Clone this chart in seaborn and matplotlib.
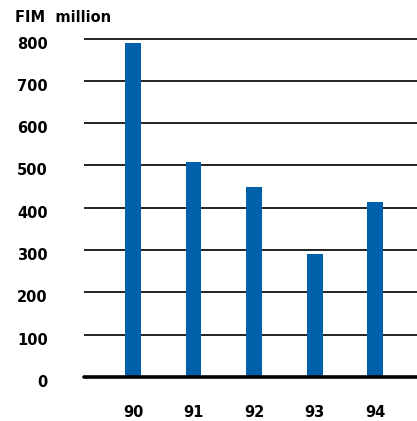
import matplotlib
matplotlib.use("Agg")
import matplotlib.pyplot as plt
import matplotlib.transforms as mtransforms
import seaborn as sns
import pandas as pd

years = ["90", "91", "92", "93", "94"]
values = [790, 508, 450, 291, 414]
y_ticks = [0, 100, 200, 300, 400, 500, 600, 700, 800]

sns.set_theme(style="white")
plt.rcParams["font.family"] = ["DejaVu Sans"]

df = pd.DataFrame({"year": years, "value": values})

fig = plt.figure(figsize=(4.17, 4.21), dpi=100)
ax = fig.add_axes([84 / 417, 1 - 377 / 421, 1 - 84 / 417, (377 - 34.3) / 421])

ax.set_ylim(0, 810)
for t in y_ticks[1:]:
    ax.axhline(t, color="#111111", lw=1.3, zorder=1)
ax.axhline(0, color="#000000", lw=2.6, zorder=3, clip_on=False)

sns.barplot(data=df, x="year", y="value", color="#0060AA", width=0.26,
            saturation=1, ax=ax, zorder=2)
for p in ax.patches:
    p.set_edgecolor("none")

ax.set_xlim(-0.81, 4.69)
ax.set_yticks(y_ticks)
ax.set_yticklabels([str(t) for t in y_ticks])
ax.set_xlabel("")
ax.set_ylabel("")
for s in ax.spines.values():
    s.set_visible(False)
ax.tick_params(axis="y", length=0, pad=26, labelsize=10.5)
ax.tick_params(axis="x", length=0, pad=20, labelsize=10.5)

# nudge the value labels slightly below their gridlines
shift = mtransforms.ScaledTranslation(0, -4 / 100, fig.dpi_scale_trans)
for lbl in ax.get_yticklabels():
    lbl.set_transform(lbl.get_transform() + shift)
for lbl in ax.get_xticklabels() + ax.get_yticklabels():
    lbl.set_fontweight("bold")
    lbl.set_color("#000000")

fig.text(15 / 417, 1 - 17.5 / 421, "FIM  million", fontsize=10.5, fontweight="bold",
         va="center", ha="left", color="#000000")

fig.savefig("out.png", dpi=100)
